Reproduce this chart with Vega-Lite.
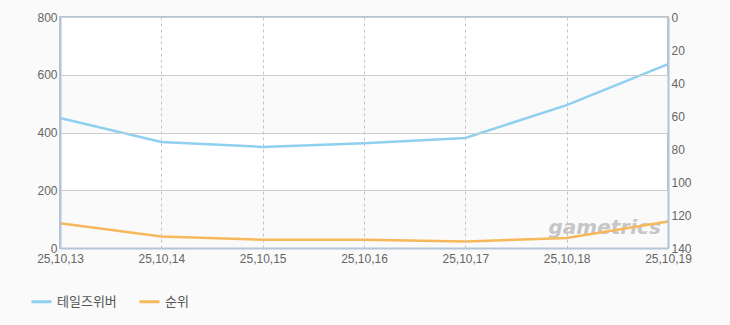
{
  "$schema": "https://vega.github.io/schema/vega-lite/v6.json",
  "width": 608,
  "height": 231,
  "autosize": {"type": "none"},
  "padding": {"left": 60, "top": 17, "right": 62, "bottom": 77},
  "background": "#fafafa",
  "config": {
    "font": "Liberation Sans",
    "view": {"stroke": "#b3c5d8", "strokeWidth": 2, "fill": "#ffffff"},
    "axis": {"domain": true, "domainColor": "#b3c5d8", "domainWidth": 2, "ticks": false, "labelColor": "#666666", "labelFontSize": 12, "title": null},
    "axisX": {"grid": true, "gridDash": [3, 3], "gridColor": "#c4c4c4", "labelAngle": 0, "labelPadding": 5},
    "legend": {
      "orient": "none", "legendX": -30, "legendY": 273, "direction": "horizontal",
      "symbolType": "stroke", "symbolSize": 400, "symbolStrokeWidth": 3,
      "labelFont": "Noto Sans CJK KR", "labelFontSize": 13, "labelColor": "#555555",
      "columnPadding": 16, "title": null
    }
  },
  "datasets": {
    "d": [
      {"date": "25,10,13", "series": "테일즈위버", "value": 450},
      {"date": "25,10,14", "series": "테일즈위버", "value": 367},
      {"date": "25,10,15", "series": "테일즈위버", "value": 350},
      {"date": "25,10,16", "series": "테일즈위버", "value": 363},
      {"date": "25,10,17", "series": "테일즈위버", "value": 381},
      {"date": "25,10,18", "series": "테일즈위버", "value": 495},
      {"date": "25,10,19", "series": "테일즈위버", "value": 637},
      {"date": "25,10,13", "series": "순위", "value": 125},
      {"date": "25,10,14", "series": "순위", "value": 133},
      {"date": "25,10,15", "series": "순위", "value": 135},
      {"date": "25,10,16", "series": "순위", "value": 135},
      {"date": "25,10,17", "series": "순위", "value": 136},
      {"date": "25,10,18", "series": "순위", "value": 134},
      {"date": "25,10,19", "series": "순위", "value": 124}
    ]
  },
  "layer": [
    {
      "layer": [
        {
          "data": {"values": [{"lo": 0, "hi": 200}, {"lo": 400, "hi": 600}]},
          "mark": {"type": "rect", "color": "#fafafa"},
          "encoding": {
            "y": {"field": "lo", "type": "quantitative", "scale": {"domain": [0, 800]},
                  "axis": {"values": [0, 200, 400, 600, 800], "grid": true, "gridColor": "#cccccc", "labelPadding": 3, "zindex": 1}},
            "y2": {"field": "hi"}
          }
        },
        {
          "data": {"values": [{"label": "gametrics", "date": "25,10,18"}]},
          "mark": {"type": "text", "fontStyle": "italic", "fontWeight": "bold", "fontSize": 20, "color": "#c6c6c6", "dx": 38, "font": "DejaVu Sans"},
          "encoding": {
            "x": {"field": "date", "type": "ordinal", "scale": {"type": "point", "padding": 0}, "axis": {"zindex": 1}},
            "y": {"datum": 70, "type": "quantitative"},
            "text": {"field": "label"}
          }
        },
        {
          "data": {"name": "d"},
          "transform": [{"filter": "datum.series == '테일즈위버'"}],
          "mark": {"type": "line", "strokeWidth": 2.5},
          "encoding": {
            "x": {"field": "date", "type": "ordinal", "scale": {"type": "point", "padding": 0}, "axis": {"zindex": 1}},
            "y": {"field": "value", "type": "quantitative"},
            "color": {"field": "series", "type": "nominal",
                      "scale": {"domain": ["테일즈위버", "순위"], "range": ["#8fd0f0", "#f6b85a"]}}
          }
        }
      ]
    },
    {
      "data": {"name": "d"},
      "transform": [{"filter": "datum.series == '순위'"}],
      "mark": {"type": "line", "strokeWidth": 2.5},
      "encoding": {
        "x": {"field": "date", "type": "ordinal", "scale": {"type": "point", "padding": 0}, "axis": {"zindex": 1}},
        "y": {"field": "value", "type": "quantitative",
              "scale": {"domain": [0, 140], "reverse": true},
              "axis": {"orient": "right", "values": [0, 20, 40, 60, 80, 100, 120, 140], "grid": false, "labelPadding": 3, "zindex": 1}},
        "color": {"field": "series", "type": "nominal"}
      }
    }
  ],
  "resolve": {"scale": {"y": "independent"}}
}
